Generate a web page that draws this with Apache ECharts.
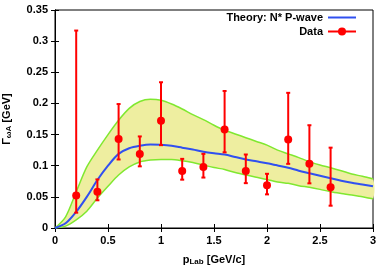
<!DOCTYPE html>
<html>
<head>
<meta charset="utf-8">
<script src="https://cdn.jsdelivr.net/npm/echarts@6/dist/echarts.min.js"></script>
<style>html,body{margin:0;padding:0;background:#fff}#c{width:382px;height:269px}</style>
</head>
<body>
<div id="c"></div>
<script>
var curveX = [0,0.1,0.2,0.3,0.4,0.5,0.6,0.7,0.8,0.9,1.0,1.1,1.2,1.3,1.4,1.5,1.6,1.7,1.8,1.9,2.0,2.1,2.2,2.3,2.4,2.5,2.6,2.7,2.8,2.9,3.0];
var theory = [0,0.0075,0.026,0.05,0.077,0.1,0.119,0.128,0.132,0.134,0.1335,0.132,0.129,0.126,0.1225,0.12,0.118,0.114,0.110,0.107,0.104,0.1005,0.0968,0.092,0.088,0.084,0.080,0.076,0.0727,0.070,0.067];
var upper = [0,0.018,0.058,0.098,0.125,0.15,0.173,0.192,0.203,0.2066,0.205,0.199,0.191,0.182,0.174,0.165,0.157,0.151,0.145,0.139,0.133,0.125,0.119,0.113,0.1065,0.101,0.0968,0.092,0.0867,0.083,0.0787];
var lower = [0,0.003,0.013,0.027,0.048,0.067,0.085,0.098,0.106,0.109,0.110,0.110,0.108,0.105,0.101,0.097,0.094,0.089,0.085,0.0815,0.078,0.074,0.0717,0.068,0.0653,0.062,0.0583,0.0555,0.053,0.050,0.047];

var dataX = [0.2,0.4,0.6,0.8,1.0,1.2,1.4,1.6,1.8,2.0,2.2,2.4,2.6];
var dataY = [0.052,0.058,0.143,0.119,0.172,0.0915,0.098,0.158,0.0915,0.0685,0.142,0.103,0.0653];
var errLow = [0.0246,0.0445,0.110,0.099,0.133,0.0776,0.081,0.1215,0.072,0.054,0.103,0.0717,0.0358];
var errHigh = [0.317,0.078,0.199,0.147,0.234,0.111,0.119,0.220,0.118,0.087,0.217,0.165,0.129];

var xTicks = {min:0, max:3, interval:0.5};
var yTicks = {min:0, max:0.35, interval:0.05};

var FONT = "'Liberation Sans', Arial, sans-serif";
var chart = echarts.init(document.getElementById('c'), null, {renderer:'canvas'});

function pairs(xs, ys){ return xs.map(function(x,i){ return [x, ys[i]]; }); }

var lbl = {fontFamily:FONT, fontWeight:'bold', fontSize:11, color:'#000'};
var option = {
  animation:false,
  grid:{left:55, right:9, top:10, bottom:41, show:true, borderColor:'#000', borderWidth:1, containLabel:false, outerBoundsMode:'none'},
  legend:{
    orient:'vertical', right:20, top:7, align:'right', itemGap:3,
    itemWidth:28, itemHeight:10,
    textStyle:{fontFamily:FONT, fontWeight:'bold', fontSize:11, color:'#000'},
    data:[
      {name:'Theory: N* P-wave', icon:'path://M0,4L28,4L28,6L0,6Z', itemStyle:{color:'#3050f0'}},
      {name:'Data'}
    ]
  },
  xAxis:[{
    type:'value', min:xTicks.min, max:xTicks.max, interval:xTicks.interval,
    axisLine:{show:true, onZero:false, lineStyle:{color:'#000'}},
    axisTick:{show:true, inside:true, length:4, lineStyle:{color:'#000'}},
    axisLabel:Object.assign({margin:7}, lbl),
    splitLine:{show:false},
    name:'{a|p}{s|Lab}{a| [GeV/c]}', nameLocation:'middle', nameGap:25,
    nameTextStyle:{rich:{a:{fontFamily:FONT, fontWeight:'bold', fontSize:11, color:'#000'}, s:{fontFamily:FONT, fontWeight:'bold', fontSize:8, color:'#000', padding:[5,0,0,0]}}}
  },{
    type:'value', position:'top', min:xTicks.min, max:xTicks.max, interval:xTicks.interval,
    axisLine:{show:true, lineStyle:{color:'#000'}},
    axisTick:{show:true, inside:true, length:4, lineStyle:{color:'#000'}},
    axisLabel:{show:false}, splitLine:{show:false}
  }],
  yAxis:[{
    type:'value', min:yTicks.min, max:yTicks.max, interval:yTicks.interval,
    axisLine:{show:true, onZero:false, lineStyle:{color:'#000'}},
    axisTick:{show:true, inside:true, length:4, lineStyle:{color:'#000'}},
    axisLabel:Object.assign({margin:7}, lbl),
    splitLine:{show:false},
    name:'{a|Γ}{s|ωA}{a| [GeV]}', nameLocation:'middle', nameGap:42, nameRotate:90,
    nameTextStyle:{rich:{a:{fontFamily:FONT, fontWeight:'bold', fontSize:11, color:'#000'}, s:{fontFamily:FONT, fontWeight:'bold', fontSize:8, color:'#000', padding:[5,0,0,0]}}}
  },{
    type:'value', position:'right', min:yTicks.min, max:yTicks.max, interval:yTicks.interval,
    axisLine:{show:true, lineStyle:{color:'#000'}},
    axisTick:{show:true, inside:true, length:4, lineStyle:{color:'#000'}},
    axisLabel:{show:false}, splitLine:{show:false}
  }],
  series:[
    {
      name:'band', type:'custom', z:1, silent:true,
      data:curveX.map(function(x,i){ return [x, lower[i], upper[i]]; }),
      renderItem:function(params, api){
        if (params.dataIndex !== 0) return null;
        var pts = [];
        for (var i = 0; i < curveX.length; i++) pts.push(api.coord([curveX[i], upper[i]]));
        for (var j = curveX.length - 1; j >= 0; j--) pts.push(api.coord([curveX[j], lower[j]]));
        return {type:'polygon', shape:{points:pts, smooth:0.3}, style:{fill:'rgb(238,238,160)', stroke:null}};
      }
    },
    {
      name:'upperBand', type:'line', data:pairs(curveX, upper), smooth:0.3,
      symbol:'none', lineStyle:{color:'#80e830', width:1.5}, silent:true, z:2
    },
    {
      name:'lowerBand', type:'line', data:pairs(curveX, lower), smooth:0.3,
      symbol:'none', lineStyle:{color:'#80e830', width:1.5}, silent:true, z:2
    },
    {
      name:'Theory: N* P-wave', type:'line', data:pairs(curveX, theory), smooth:0.3,
      symbol:'none', lineStyle:{color:'#3050f0', width:2}, itemStyle:{color:'#3050f0'}, z:3
    },
    {
      name:'errorbars', type:'custom', z:4,
      data:dataX.map(function(x,i){ return [x, errLow[i], errHigh[i]]; }),
      renderItem:function(params, api){
        var lo = api.coord([api.value(0), api.value(1)]);
        var hi = api.coord([api.value(0), api.value(2)]);
        var st = {stroke:'#ff0000', lineWidth:2};
        return {type:'group', children:[
          {type:'line', shape:{x1:lo[0], y1:lo[1], x2:hi[0], y2:hi[1]}, style:st},
          {type:'line', shape:{x1:lo[0]-2, y1:lo[1], x2:lo[0]+2, y2:lo[1]}, style:st},
          {type:'line', shape:{x1:hi[0]-2, y1:hi[1], x2:hi[0]+2, y2:hi[1]}, style:st}
        ]};
      }
    },
    {
      name:'Data', type:'line', data:pairs(dataX, dataY),
      symbol:'circle', symbolSize:8, showSymbol:true,
      itemStyle:{color:'#ff0000'}, lineStyle:{color:'#ff0000', width:0, opacity:0}, z:5
    }
  ]
};
option.legend.data[1].lineStyle = {color:'#ff0000', width:2, opacity:1};
chart.setOption(option);
</script>
</body>
</html>
